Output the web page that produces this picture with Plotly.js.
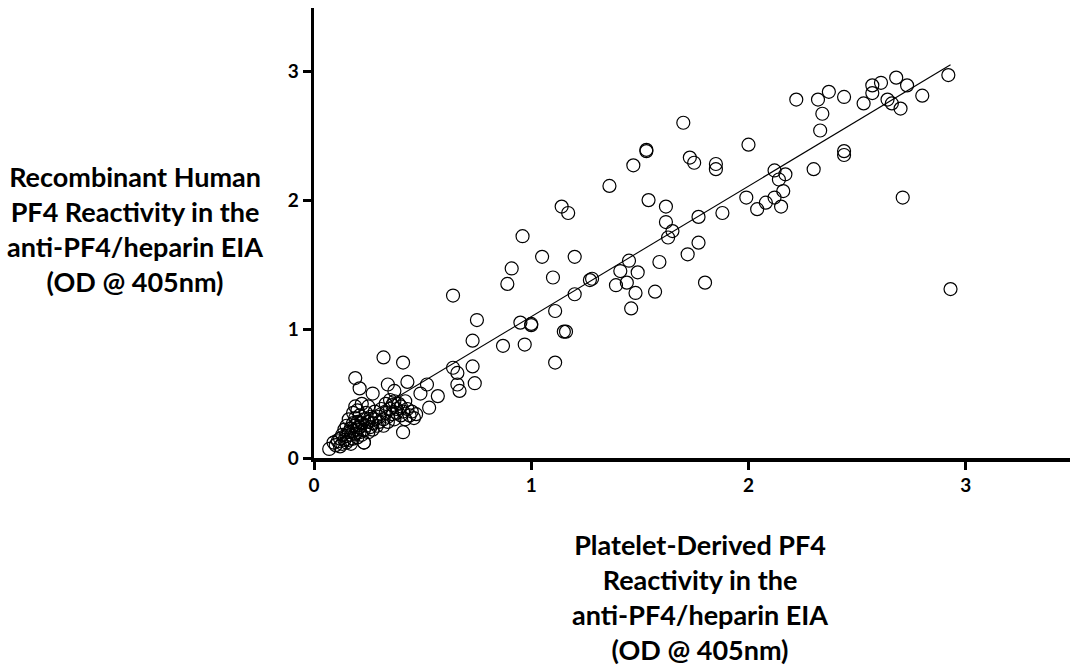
<!DOCTYPE html>
<html>
<head>
<meta charset="utf-8">
<script src="https://cdn.plot.ly/plotly-3.0.1.min.js"></script>
<style>html,body{margin:0;padding:0;background:#fff;}#chart{width:1070px;height:666px;}</style>
</head>
<body>
<div id="chart"></div>
<script>
// Platelet-derived PF4 reactivity (x) vs recombinant human PF4 reactivity (y), OD @ 405nm
const plateletOD = [
  0.07,0.09,0.10,0.11,0.12,0.12,0.13,0.13,0.14,0.14,0.15,0.15,0.15,0.16,0.16,0.16,0.17,0.17,0.17,0.18,
  0.18,0.18,0.18,0.19,0.19,0.19,0.19,0.20,0.20,0.20,0.20,0.21,0.21,0.21,0.22,0.22,0.22,0.23,0.23,0.23,
  0.24,0.24,0.25,0.25,0.25,0.26,0.26,0.27,0.27,0.28,0.28,0.29,0.30,0.30,0.31,0.32,0.32,0.33,0.33,0.34,
  0.34,0.35,0.35,0.36,0.36,0.37,0.37,0.38,0.38,0.39,0.40,0.40,0.41,0.42,0.42,0.43,0.44,0.45,0.46,0.47,
  0.32,0.41,0.19,0.21,0.27,0.34,0.43,0.52,0.49,0.57,0.53,0.37,0.41,0.23,0.64,0.66,0.73,0.66,0.67,0.74,
  0.73,0.87,0.97,1.11,0.64,0.75,0.89,0.91,0.96,0.95,1.00,1.00,1.05,1.10,1.11,1.15,1.16,1.14,1.17,1.20,
  1.20,1.27,1.28,1.36,1.39,1.41,1.44,1.45,1.46,1.48,1.49,1.47,1.53,1.53,1.54,1.57,1.59,1.62,1.62,1.65,
  1.63,1.70,1.72,1.73,1.75,1.77,1.77,1.80,1.85,1.85,1.88,1.99,2.00,2.04,2.08,2.12,2.12,2.15,2.16,2.14,
  2.17,2.22,2.30,2.32,2.33,2.34,2.37,2.44,2.44,2.44,2.53,2.57,2.57,2.61,2.64,2.66,2.68,2.70,2.71,2.73,
  2.80,2.92,2.93
];
const recombinantOD = [
  0.07,0.12,0.10,0.13,0.09,0.15,0.11,0.18,0.14,0.22,0.12,0.17,0.25,0.20,0.14,0.30,0.18,0.23,0.11,0.27,
  0.15,0.21,0.35,0.19,0.25,0.40,0.31,0.16,0.22,0.28,0.37,0.20,0.24,0.33,0.18,0.27,0.42,0.22,0.30,0.12,
  0.25,0.35,0.20,0.28,0.40,0.24,0.32,0.27,0.22,0.30,0.36,0.25,0.32,0.28,0.38,0.30,0.25,0.35,0.42,0.32,
  0.28,0.38,0.45,0.34,0.41,0.30,0.44,0.38,0.35,0.42,0.40,0.33,0.36,0.44,0.30,0.38,0.33,0.36,0.31,0.34,
  0.78,0.74,0.62,0.54,0.50,0.57,0.59,0.57,0.50,0.48,0.39,0.52,0.20,0.12,0.70,0.66,0.71,0.57,0.52,0.58,
  0.91,0.87,0.88,0.74,1.26,1.07,1.35,1.47,1.72,1.05,1.04,1.03,1.56,1.40,1.14,0.98,0.98,1.95,1.90,1.56,
  1.27,1.38,1.39,2.11,1.34,1.45,1.36,1.53,1.16,1.28,1.44,2.27,2.38,2.39,2.00,1.29,1.52,1.95,1.83,1.76,
  1.71,2.60,1.58,2.33,2.29,1.87,1.67,1.36,2.28,2.24,1.90,2.02,2.43,1.93,1.98,2.02,2.23,1.95,2.07,2.16,
  2.20,2.78,2.24,2.78,2.54,2.67,2.84,2.38,2.35,2.80,2.75,2.83,2.89,2.91,2.78,2.75,2.95,2.71,2.02,2.89,
  2.81,2.97,1.31
];
// linear regression line end points
const fitX = [0.07, 2.93];
const fitY = [0.155, 3.05];
const tickValues = [0, 1, 2, 3];
const tickLabels = ['0', '1', '2', '3'];
const xTitleLines = ['Platelet-Derived PF4', 'Reactivity in the', 'anti-PF4/heparin EIA', '(OD @ 405nm)'];
const yTitleLines = ['Recombinant Human', 'PF4 Reactivity in the', 'anti-PF4/heparin EIA', '(OD @ 405nm)'];

const FONT = 'Lato, "Open Sans", "DejaVu Sans", sans-serif';

const traces = [
  {
    x: plateletOD, y: recombinantOD, type: 'scatter', mode: 'markers',
    marker: {symbol: 'circle-open', size: 13, color: '#000', line: {width: 1.2, color: '#000'}},
    cliponaxis: false, hoverinfo: 'x+y'
  },
  {
    x: fitX, y: fitY, type: 'scatter', mode: 'lines',
    line: {color: '#000', width: 1.1}, cliponaxis: false, hoverinfo: 'skip'
  }
];

const axisCommon = {
  showline: true, linecolor: '#000', linewidth: 3.5,
  ticks: 'outside', ticklen: 8, tickwidth: 3, tickcolor: '#000',
  tickvals: tickValues, ticktext: tickLabels,
  showgrid: false, zeroline: false,
  tickfont: {family: FONT, size: 19, color: '#000', weight: 'bold'}
};

const layout = {
  width: 1070, height: 666,
  margin: {l: 314, r: 0, t: 8, b: 208},
  paper_bgcolor: '#fff', plot_bgcolor: '#fff',
  showlegend: false,
  xaxis: Object.assign({}, axisCommon, {range: [0, 3.48]}),
  yaxis: Object.assign({}, axisCommon, {range: [0, 3.49]}),
  annotations: [
    {
      text: yTitleLines.join('<br>'), xref: 'paper', yref: 'paper',
      x: -0.2368, y: 0.509, xanchor: 'center', yanchor: 'middle', align: 'center',
      showarrow: false, font: {family: FONT, size: 27, color: '#000', weight: 'bold'}
    },
    {
      text: xTitleLines.join('<br>'), xref: 'paper', yref: 'paper',
      x: 0.5106, y: -0.309, xanchor: 'center', yanchor: 'middle', align: 'center',
      showarrow: false, font: {family: FONT, size: 27, color: '#000', weight: 'bold'}
    }
  ]
};

Plotly.newPlot('chart', traces, layout, {displayModeBar: false, staticPlot: true});
</script>
</body>
</html>
